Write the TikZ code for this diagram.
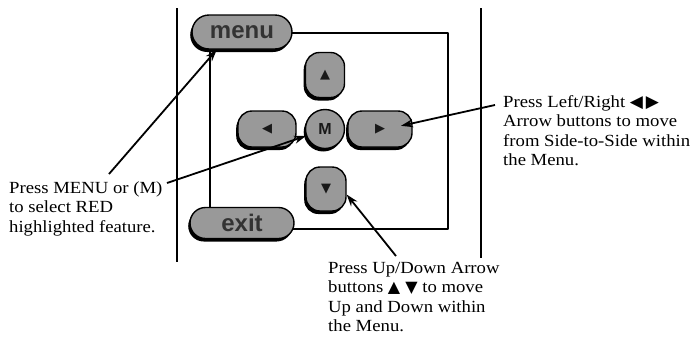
\documentclass[tikz,border=0pt]{standalone}
\usepackage{fontspec}
\setmainfont{Liberation Serif}[FakeStretch=1.1]
\setsansfont{Liberation Sans}
\newfontfamily\symfont{DejaVu Sans}
\usetikzlibrary{arrows.meta, shadows, shapes.misc}
\tikzset{
  pad/.style={
    draw,
    line width = 1.4pt,
    fill = black!40,
    inner sep = 0pt,
    drop shadow = {shadow xshift=-1.8pt, shadow yshift=-3pt, fill=black, opacity=1}
  },
  pill/.style={
    pad,
    rounded rectangle,
    minimum width = 100pt,
    minimum height = 34pt,
    text = black!80,
    font = \sffamily\bfseries\fontsize{24}{24}\selectfont
  },
  key/.style={
    pad,
    rounded corners = 14pt,
    text = black!90,
    font = \symfont\fontsize{13}{13}\selectfont
  },
  callout/.style={
    line width = 1.8pt,
    -{Stealth[length=12pt, width=8pt]}
  },
  note/.style={
    align = left,
    anchor = north west,
    inner sep = 0pt,
    font = \fontsize{17}{19.5}\selectfont
  }
}
\begin{document}
\begin{tikzpicture}[x=1pt, y=-1pt, line join=round]
\useasboundingbox (0,0) rectangle (694,346);
\newcommand\XPad{325}
\newcommand\YPad{129}
\draw[line width=2.2pt] (177,8) -- (177,262);
\draw[line width=2.2pt] (481,8) -- (481,258);
\draw[line width=2.6pt] (210,33) rectangle (448,229);

\node[pill] (M1) at (242,32) {menu};
\node[pill, minimum width=104pt, minimum height=31pt] (E1) at (242,223) {exit};
\node[key, minimum width=39pt, minimum height=45pt] (U1) at (\XPad,\YPad-54) {▲};
\node[key, minimum width=58pt, minimum height=36pt] (L1) at (\XPad-58,\YPad) {◀};
\node[pad, circle, minimum size=39pt, text=black!90, font=\sffamily\bfseries\fontsize{16}{16}\selectfont] (C1) at (\XPad,\YPad) {M};
\node[key, minimum width=64pt, minimum height=36pt] (R1) at (\XPad+55,\YPad) {▶};
\node[key, minimum width=40pt, minimum height=44pt] (D1) at (\XPad+1,\YPad+60) {▼};

\node[note] (T1) at (9,181) {Press MENU or (M)\\to select RED\\highlighted feature.};
\node[note] (T2) at (503,95) {Press Left/Right {\symfont\fontsize{17}{19.5}\selectfont ◀\,▶}\\Arrow buttons to move\\from Side-to-Side within\\the Menu.};
\node[note] (T3) at (328,262) {Press Up/Down Arrow\\buttons {\symfont\fontsize{16}{19.5}\selectfont ▲ ▼} to move\\Up and Down within\\the Menu.};

\coordinate (P1) at (109,174);
\coordinate (P2) at (167,183);
\coordinate (P3) at (495,105);
\coordinate (P4) at (396,256);

\path (P1) edge[callout] (M1.-145)
      (P2) edge[callout] (C1.200)
      (P3) edge[callout, shorten >=-12pt] (R1.10)
      (P4) edge[callout] (D1.-15);
\end{tikzpicture}
\end{document}
